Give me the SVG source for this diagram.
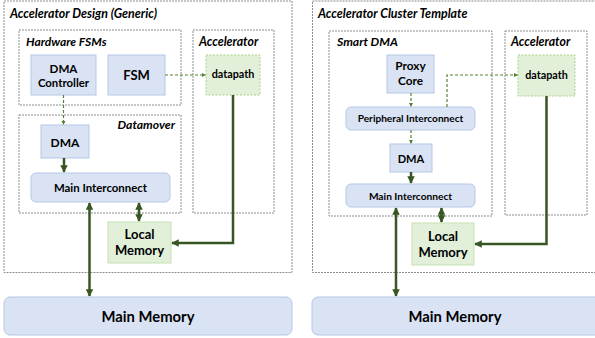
<svg xmlns="http://www.w3.org/2000/svg" width="595" height="338" viewBox="0 0 595 338">
<defs>
<style>
.cont{fill:#ffffff;stroke:#7f7f7f;stroke-width:0.9;stroke-dasharray:2,1;}
.blue{fill:#dae3f3;stroke:#b4c7e7;stroke-width:1;}
.green{fill:#e2f0d9;stroke:#c5e0b4;stroke-width:1;}
.dp{fill:#e2f0d9;stroke:#a9d18e;stroke-width:1;stroke-dasharray:2,1.5;}
.title{font-family:Lato,"Liberation Sans",sans-serif;font-weight:bold;font-style:italic;fill:#000;}
.lbl{font-family:Lato,"Liberation Sans",sans-serif;font-weight:bold;fill:#000;text-anchor:middle;}
.thick{fill:none;stroke:#375623;stroke-width:2.5;}
.dash{fill:none;stroke:#548235;stroke-width:1.2;stroke-dasharray:3,2;}
</style>
<marker id="ah" viewBox="0 0 10 10" refX="9" refY="5" markerWidth="3" markerHeight="3" orient="auto-start-reverse" markerUnits="strokeWidth">
<path d="M0,0 L10,5 L0,10 z" fill="#375623"/>
</marker>
<marker id="ahd" viewBox="0 0 10 10" refX="9" refY="5" markerWidth="3.5" markerHeight="3.5" orient="auto" markerUnits="strokeWidth">
<path d="M0,0 L10,5 L0,10 z" fill="#548235"/>
</marker>
</defs>
<rect width="595" height="338" fill="#ffffff"/>

<!-- Left: Accelerator Design (Generic) -->
<g id="design-generic">
<rect class="cont" x="4" y="1" width="288" height="271.5"/>
<text class="title" x="10" y="17.5" font-size="12.4">Accelerator Design (Generic)</text>
</g>
<g id="hw-fsms">
<rect class="cont" x="19" y="30" width="162" height="75"/>
<text class="title" x="26" y="45.5" font-size="12">Hardware FSMs</text>
</g>
<g id="accel-left">
<rect class="cont" x="193" y="30" width="81" height="183"/>
<text class="title" x="199" y="45.5" font-size="12.3">Accelerator</text>
</g>
<g id="datamover">
<rect class="cont" x="19" y="115" width="162" height="98"/>
<text class="title" x="175" y="128.5" font-size="12.2" text-anchor="end">Datamover</text>
</g>
<g id="dma-controller">
<rect class="blue" x="31" y="55" width="65" height="40"/>
<text class="lbl" x="63.5" y="72.5" font-size="11.6">DMA</text>
<text class="lbl" x="63.5" y="87" font-size="11.4">Controller</text>
</g>
<g id="fsm">
<rect class="blue" x="108" y="55" width="57" height="40"/>
<text class="lbl" x="136.5" y="80" font-size="13">FSM</text>
</g>
<g id="datapath-left">
<rect class="dp" x="206" y="55" width="54" height="40"/>
<text class="lbl" x="233" y="78" font-size="10.8">datapath</text>
</g>
<g id="dma-left">
<rect class="blue" x="41" y="125" width="48" height="33"/>
<text class="lbl" x="65" y="146.5" font-size="12">DMA</text>
</g>
<g id="main-ic-left">
<rect class="blue" x="31" y="173" width="139" height="29" rx="5"/>
<text class="lbl" x="100.5" y="192" font-size="11.4">Main Interconnect</text>
</g>
<g id="local-mem-left">
<rect class="green" x="108" y="222" width="63" height="41"/>
<text class="lbl" x="139.5" y="239" font-size="13">Local</text>
<text class="lbl" x="139.5" y="255" font-size="13">Memory</text>
</g>
<g id="main-mem-left">
<rect class="blue" x="4" y="297" width="288" height="38" rx="6"/>
<text class="lbl" x="148" y="321.5" font-size="14.8">Main Memory</text>
</g>

<!-- Right: Accelerator Cluster Template -->
<g id="cluster-template">
<rect class="cont" x="312.5" y="1" width="300" height="271.5"/>
<text class="title" x="318" y="17.5" font-size="12.4">Accelerator Cluster Template</text>
</g>
<g id="smart-dma">
<rect class="cont" x="329" y="31" width="163" height="185"/>
<text class="title" x="337" y="45.5" font-size="12.2">Smart DMA</text>
</g>
<g id="accel-right">
<rect class="cont" x="505" y="31" width="82" height="184"/>
<text class="title" x="511" y="45.5" font-size="12.3">Accelerator</text>
</g>
<g id="proxy-core">
<rect class="blue" x="387" y="55" width="47" height="38"/>
<text class="lbl" x="410.5" y="70" font-size="11.8">Proxy</text>
<text class="lbl" x="410.5" y="85" font-size="11.8">Core</text>
</g>
<g id="datapath-right">
<rect class="dp" x="518" y="55" width="57" height="41"/>
<text class="lbl" x="546.5" y="78.5" font-size="10.8">datapath</text>
</g>
<g id="periph-ic">
<rect class="blue" x="346" y="107" width="129" height="23" rx="5"/>
<text class="lbl" x="410.5" y="122" font-size="10.1">Peripheral Interconnect</text>
</g>
<g id="dma-right">
<rect class="blue" x="390" y="144" width="42" height="28"/>
<text class="lbl" x="411" y="162.5" font-size="11.1">DMA</text>
</g>
<g id="main-ic-right">
<rect class="blue" x="346" y="184" width="129" height="23" rx="5"/>
<text class="lbl" x="410.5" y="199.5" font-size="10.2">Main Interconnect</text>
</g>
<g id="local-mem-right">
<rect class="green" x="412" y="223" width="62" height="42"/>
<text class="lbl" x="443" y="241" font-size="13">Local</text>
<text class="lbl" x="443" y="257" font-size="13">Memory</text>
</g>
<g id="main-mem-right">
<rect class="blue" x="312" y="297" width="300" height="38" rx="6"/>
<text class="lbl" x="455" y="321.5" font-size="14.8">Main Memory</text>
</g>

<g id="connectors">
<!-- left -->
<path class="dash" d="M165,75 H205.5" marker-end="url(#ahd)"/>
<path class="dash" d="M63.5,95 V124.5" marker-end="url(#ahd)"/>
<path class="thick" d="M64,158 V172" marker-end="url(#ah)"/>
<path class="thick" d="M139,203 V221" marker-start="url(#ah)" marker-end="url(#ah)"/>
<path class="thick" d="M233,95 V243 H172" marker-end="url(#ah)"/>
<path class="thick" d="M89.5,203 V296" marker-start="url(#ah)" marker-end="url(#ah)"/>
<!-- right -->
<path class="dash" d="M411,93 V106.5" marker-end="url(#ahd)"/>
<path class="dash" d="M447,107 V75 H517.5" marker-end="url(#ahd)"/>
<path class="dash" d="M411,130 V143.5" marker-end="url(#ahd)"/>
<path class="thick" d="M411,172 V183" marker-end="url(#ah)"/>
<path class="thick" d="M441.5,208 V222" marker-start="url(#ah)" marker-end="url(#ah)"/>
<path class="thick" d="M546.5,96 V244 H475" marker-end="url(#ah)"/>
<path class="thick" d="M396,208 V296" marker-start="url(#ah)" marker-end="url(#ah)"/>
</g>
</svg>
